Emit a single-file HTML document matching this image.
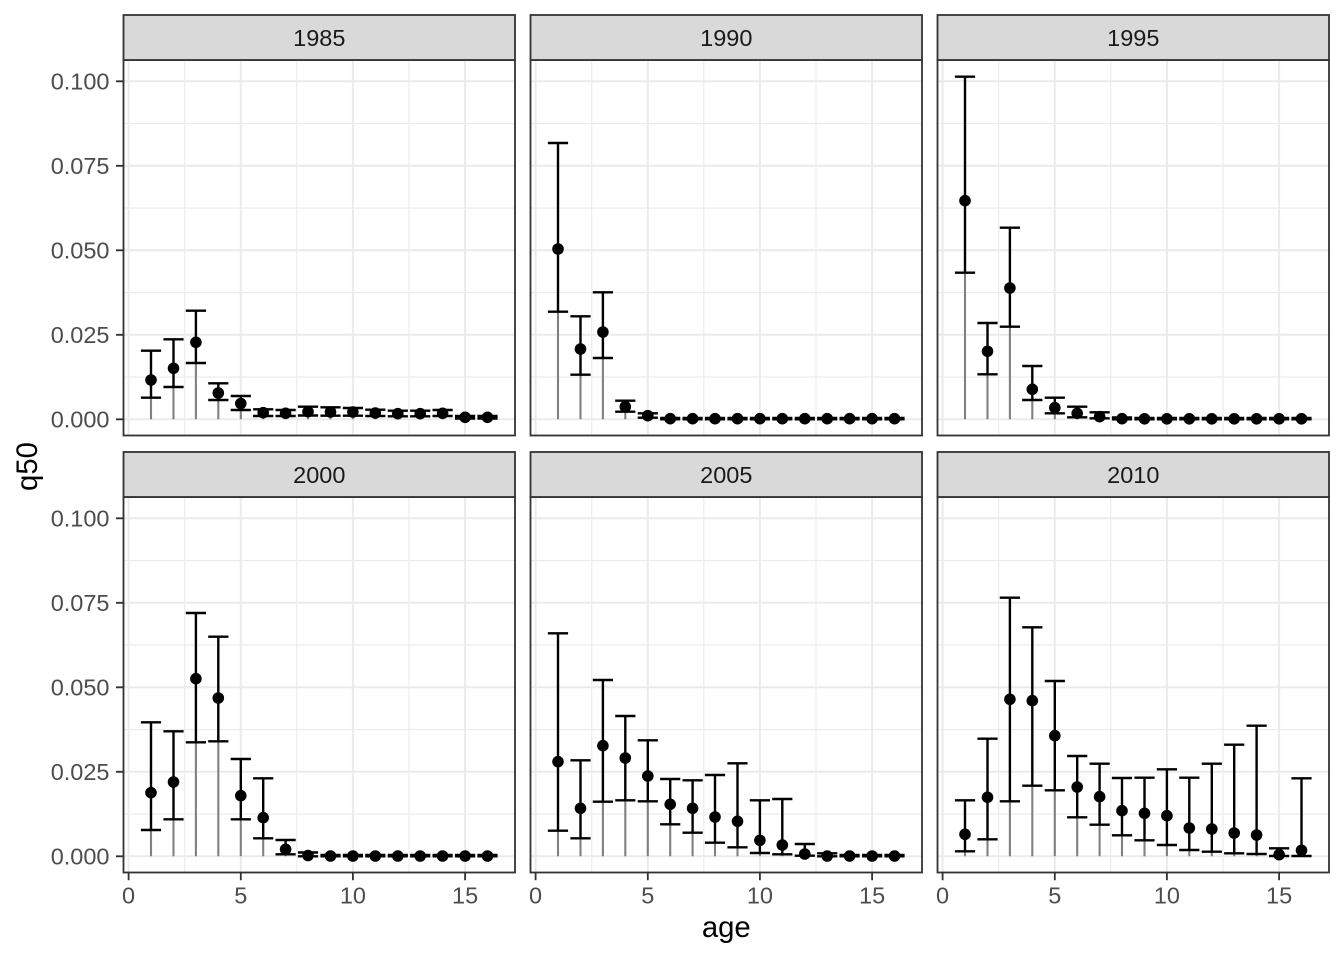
<!DOCTYPE html>
<html>
<head>
<meta charset="utf-8">
<style>
html,body{margin:0;padding:0;background:#fff;}
svg{display:block;}
text{font-family:"Liberation Sans",Arial,sans-serif;}
</style>
</head>
<body>
<svg width="1344" height="960" viewBox="0 0 1344 960" xmlns="http://www.w3.org/2000/svg">
<defs>
<g id="panel">
  <rect x="123.5" y="60" width="391.5" height="375.5" fill="#fff"/>
  <g stroke="#EBEBEB" stroke-width="1.1" fill="none">
    <path d="M123.5,377.05H515M123.5,292.55H515M123.5,208.05H515M123.5,123.55H515"/>
    <path d="M184.7,60V435.5M296.8,60V435.5M409,60V435.5"/>
  </g>
  <g stroke="#EBEBEB" stroke-width="2" fill="none">
    <path d="M123.5,419.3H515M123.5,334.8H515M123.5,250.3H515M123.5,165.8H515M123.5,81.3H515"/>
    <path d="M128.6,60V435.5M240.8,60V435.5M352.9,60V435.5M465.1,60V435.5"/>
  </g>
</g>
<g id="frame">
  <rect x="123.5" y="60" width="391.5" height="375.5" fill="none" stroke="#333333" stroke-width="1.8"/>
  <rect x="123.5" y="15" width="391.5" height="45" fill="#D9D9D9" stroke="#333333" stroke-width="1.8"/>
</g>
</defs>

<use href="#panel"/>
<use href="#panel" transform="translate(407,0)"/>
<use href="#panel" transform="translate(814,0)"/>
<use href="#panel" transform="translate(0,437)"/>
<use href="#panel" transform="translate(407,437)"/>
<use href="#panel" transform="translate(814,437)"/>

<!-- Panel 1: 1985 -->
<g>
<path fill="none" stroke="#808080" stroke-width="2.1" d="M151,419.3V397.7M173.5,419.3V387M195.9,419.3V363M218.3,419.3V400M240.8,419.3V410M263.2,419.3V416M285.6,419.3V416M308,419.3V415.5M330.5,419.3V415.7M352.9,419.3V415.7M375.3,419.3V416M397.8,419.3V416.3M420.2,419.3V416.3M442.6,419.3V416M465.1,419.3V418.5M487.5,419.3V418.5"/>
<path fill="none" stroke="#000" stroke-width="2.4" d="M140.9,350.7h20.2m-10.1,0V397.7m-10.1,0h20.2M163.4,339.3h20.2m-10.1,0V387m-10.1,0h20.2M185.8,310.7h20.2m-10.1,0V363m-10.1,0h20.2M208.2,383.3h20.2m-10.1,0V400m-10.1,0h20.2M230.7,396h20.2m-10.1,0V410m-10.1,0h20.2M253.1,409.3h20.2m-10.1,0V416m-10.1,0h20.2M275.5,410h20.2m-10.1,0V416m-10.1,0h20.2M297.9,406.7h20.2m-10.1,0V415.5m-10.1,0h20.2M320.4,407.3h20.2m-10.1,0V415.7m-10.1,0h20.2M342.8,408h20.2m-10.1,0V415.7m-10.1,0h20.2M365.2,409.7h20.2m-10.1,0V416m-10.1,0h20.2M387.7,410.7h20.2m-10.1,0V416.3m-10.1,0h20.2M410.1,410.7h20.2m-10.1,0V416.3m-10.1,0h20.2M432.5,410h20.2m-10.1,0V416m-10.1,0h20.2M455,416h20.2m-10.1,0V418.5m-10.1,0h20.2M477.4,416h20.2m-10.1,0V418.5m-10.1,0h20.2"/>
<g fill="#000">
<circle cx="151" cy="380" r="5.8"/><circle cx="173.5" cy="368.3" r="5.8"/><circle cx="195.9" cy="342.3" r="5.8"/><circle cx="218.3" cy="393" r="5.8"/><circle cx="240.8" cy="403.5" r="5.8"/><circle cx="263.2" cy="412.7" r="5.8"/><circle cx="285.6" cy="413.3" r="5.8"/><circle cx="308" cy="411.7" r="5.8"/><circle cx="330.5" cy="412" r="5.8"/><circle cx="352.9" cy="412" r="5.8"/><circle cx="375.3" cy="413" r="5.8"/><circle cx="397.8" cy="413.7" r="5.8"/><circle cx="420.2" cy="413.7" r="5.8"/><circle cx="442.6" cy="413.3" r="5.8"/><circle cx="465.1" cy="417.3" r="5.8"/><circle cx="487.5" cy="417.3" r="5.8"/>
</g>
</g>

<!-- Panel 2: 1990 -->
<g transform="translate(407,0)">
<path fill="none" stroke="#808080" stroke-width="2.1" d="M151,419.3V311.7M173.5,419.3V374.7M195.9,419.3V358M218.3,419.3V411.7M240.8,419.3V417.7"/>
<path fill="none" stroke="#000" stroke-width="2.4" d="M140.9,143h20.2m-10.1,0V311.7m-10.1,0h20.2M163.4,316.3h20.2m-10.1,0V374.7m-10.1,0h20.2M185.8,292.3h20.2m-10.1,0V358m-10.1,0h20.2M208.2,400.7h20.2m-10.1,0V411.7m-10.1,0h20.2M230.7,413.3h20.2m-10.1,0V417.7m-10.1,0h20.2M253.1,418h20.2m-10.1,0V419.3m-10.1,0h20.2M275.5,418h20.2m-10.1,0V419.3m-10.1,0h20.2M297.9,418h20.2m-10.1,0V419.3m-10.1,0h20.2M320.4,418h20.2m-10.1,0V419.3m-10.1,0h20.2M342.8,418h20.2m-10.1,0V419.3m-10.1,0h20.2M365.2,418h20.2m-10.1,0V419.3m-10.1,0h20.2M387.7,418h20.2m-10.1,0V419.3m-10.1,0h20.2M410.1,418h20.2m-10.1,0V419.3m-10.1,0h20.2M432.5,418h20.2m-10.1,0V419.3m-10.1,0h20.2M455,418h20.2m-10.1,0V419.3m-10.1,0h20.2M477.4,418h20.2m-10.1,0V419.3m-10.1,0h20.2"/>
<g fill="#000">
<circle cx="151" cy="249" r="5.8"/><circle cx="173.5" cy="349" r="5.8"/><circle cx="195.9" cy="332" r="5.8"/><circle cx="218.3" cy="406.7" r="5.8"/><circle cx="240.8" cy="415.7" r="5.8"/><circle cx="263.2" cy="418.7" r="5.8"/><circle cx="285.6" cy="418.7" r="5.8"/><circle cx="308" cy="418.7" r="5.8"/><circle cx="330.5" cy="418.7" r="5.8"/><circle cx="352.9" cy="418.7" r="5.8"/><circle cx="375.3" cy="418.7" r="5.8"/><circle cx="397.8" cy="418.7" r="5.8"/><circle cx="420.2" cy="418.7" r="5.8"/><circle cx="442.6" cy="418.7" r="5.8"/><circle cx="465.1" cy="418.7" r="5.8"/><circle cx="487.5" cy="418.7" r="5.8"/>
</g>
</g>

<!-- Panel 3: 1995 -->
<g transform="translate(814,0)">
<path fill="none" stroke="#808080" stroke-width="2.1" d="M151,419.3V272.7M173.5,419.3V374.3M195.9,419.3V326.7M218.3,419.3V400M240.8,419.3V413.3M263.2,419.3V417.3"/>
<path fill="none" stroke="#000" stroke-width="2.4" d="M140.9,76.7h20.2m-10.1,0V272.7m-10.1,0h20.2M163.4,323h20.2m-10.1,0V374.3m-10.1,0h20.2M185.8,227.7h20.2m-10.1,0V326.7m-10.1,0h20.2M208.2,366h20.2m-10.1,0V400m-10.1,0h20.2M230.7,397.7h20.2m-10.1,0V413.3m-10.1,0h20.2M253.1,406.7h20.2m-10.1,0V417.3m-10.1,0h20.2M275.5,412.3h20.2m-10.1,0V418.3m-10.1,0h20.2M297.9,417.5h20.2m-10.1,0V419.3m-10.1,0h20.2M320.4,418h20.2m-10.1,0V419.3m-10.1,0h20.2M342.8,418h20.2m-10.1,0V419.3m-10.1,0h20.2M365.2,418h20.2m-10.1,0V419.3m-10.1,0h20.2M387.7,418h20.2m-10.1,0V419.3m-10.1,0h20.2M410.1,418h20.2m-10.1,0V419.3m-10.1,0h20.2M432.5,418h20.2m-10.1,0V419.3m-10.1,0h20.2M455,418h20.2m-10.1,0V419.3m-10.1,0h20.2M477.4,418h20.2m-10.1,0V419.3m-10.1,0h20.2"/>
<g fill="#000">
<circle cx="151" cy="200.7" r="5.8"/><circle cx="173.5" cy="351.3" r="5.8"/><circle cx="195.9" cy="288" r="5.8"/><circle cx="218.3" cy="389.3" r="5.8"/><circle cx="240.8" cy="407.7" r="5.8"/><circle cx="263.2" cy="413.3" r="5.8"/><circle cx="285.6" cy="416.7" r="5.8"/><circle cx="308" cy="418.7" r="5.8"/><circle cx="330.5" cy="418.8" r="5.8"/><circle cx="352.9" cy="418.8" r="5.8"/><circle cx="375.3" cy="418.8" r="5.8"/><circle cx="397.8" cy="418.8" r="5.8"/><circle cx="420.2" cy="418.8" r="5.8"/><circle cx="442.6" cy="418.8" r="5.8"/><circle cx="465.1" cy="418.8" r="5.8"/><circle cx="487.5" cy="418.8" r="5.8"/>
</g>
</g>

<!-- Panel 4: 2000 -->
<g>
<path fill="none" stroke="#808080" stroke-width="2.1" d="M151,856.3V830M173.5,856.3V819.3M195.9,856.3V742.3M218.3,856.3V741.3M240.8,856.3V819.3M263.2,856.3V838.3M285.6,856.3V854.3"/>
<path fill="none" stroke="#000" stroke-width="2.4" d="M140.9,722.3h20.2m-10.1,0V830m-10.1,0h20.2M163.4,731.3h20.2m-10.1,0V819.3m-10.1,0h20.2M185.8,613h20.2m-10.1,0V742.3m-10.1,0h20.2M208.2,636.7h20.2m-10.1,0V741.3m-10.1,0h20.2M230.7,759h20.2m-10.1,0V819.3m-10.1,0h20.2M253.1,778.3h20.2m-10.1,0V838.3m-10.1,0h20.2M275.5,840h20.2m-10.1,0V854.3m-10.1,0h20.2M297.9,852.5h20.2m-10.1,0V856.3m-10.1,0h20.2M320.4,855h20.2m-10.1,0V856.3m-10.1,0h20.2M342.8,855h20.2m-10.1,0V856.3m-10.1,0h20.2M365.2,855h20.2m-10.1,0V856.3m-10.1,0h20.2M387.7,855h20.2m-10.1,0V856.3m-10.1,0h20.2M410.1,855h20.2m-10.1,0V856.3m-10.1,0h20.2M432.5,855h20.2m-10.1,0V856.3m-10.1,0h20.2M455,855h20.2m-10.1,0V856.3m-10.1,0h20.2M477.4,855h20.2m-10.1,0V856.3m-10.1,0h20.2"/>
<g fill="#000">
<circle cx="151" cy="792.7" r="5.8"/><circle cx="173.5" cy="782" r="5.8"/><circle cx="195.9" cy="678.7" r="5.8"/><circle cx="218.3" cy="698" r="5.8"/><circle cx="240.8" cy="795.7" r="5.8"/><circle cx="263.2" cy="817.7" r="5.8"/><circle cx="285.6" cy="849.3" r="5.8"/><circle cx="308" cy="855.5" r="5.8"/><circle cx="330.5" cy="856" r="5.8"/><circle cx="352.9" cy="856" r="5.8"/><circle cx="375.3" cy="856" r="5.8"/><circle cx="397.8" cy="856" r="5.8"/><circle cx="420.2" cy="856" r="5.8"/><circle cx="442.6" cy="856" r="5.8"/><circle cx="465.1" cy="856" r="5.8"/><circle cx="487.5" cy="856" r="5.8"/>
</g>
</g>

<!-- Panel 5: 2005 -->
<g transform="translate(407,0)">
<path fill="none" stroke="#808080" stroke-width="2.1" d="M151,856.3V830.7M173.5,856.3V838.3M195.9,856.3V801.7M218.3,856.3V800.3M240.8,856.3V801.3M263.2,856.3V824.3M285.6,856.3V832.7M308,856.3V842.7M330.5,856.3V847.3M352.9,856.3V853M375.3,856.3V854.3"/>
<path fill="none" stroke="#000" stroke-width="2.4" d="M140.9,633.3h20.2m-10.1,0V830.7m-10.1,0h20.2M163.4,760.3h20.2m-10.1,0V838.3m-10.1,0h20.2M185.8,680h20.2m-10.1,0V801.7m-10.1,0h20.2M208.2,716h20.2m-10.1,0V800.3m-10.1,0h20.2M230.7,740.3h20.2m-10.1,0V801.3m-10.1,0h20.2M253.1,779h20.2m-10.1,0V824.3m-10.1,0h20.2M275.5,780.3h20.2m-10.1,0V832.7m-10.1,0h20.2M297.9,775h20.2m-10.1,0V842.7m-10.1,0h20.2M320.4,763.3h20.2m-10.1,0V847.3m-10.1,0h20.2M342.8,800.3h20.2m-10.1,0V853m-10.1,0h20.2M365.2,799h20.2m-10.1,0V854.3m-10.1,0h20.2M387.7,844h20.2m-10.1,0V855.7m-10.1,0h20.2M410.1,853.3h20.2m-10.1,0V856.3m-10.1,0h20.2M432.5,855h20.2m-10.1,0V856.3m-10.1,0h20.2M455,855h20.2m-10.1,0V856.3m-10.1,0h20.2M477.4,855h20.2m-10.1,0V856.3m-10.1,0h20.2"/>
<g fill="#000">
<circle cx="151" cy="761.7" r="5.8"/><circle cx="173.5" cy="808.3" r="5.8"/><circle cx="195.9" cy="745.7" r="5.8"/><circle cx="218.3" cy="758" r="5.8"/><circle cx="240.8" cy="776" r="5.8"/><circle cx="263.2" cy="804.3" r="5.8"/><circle cx="285.6" cy="808.3" r="5.8"/><circle cx="308" cy="817" r="5.8"/><circle cx="330.5" cy="821.3" r="5.8"/><circle cx="352.9" cy="840.3" r="5.8"/><circle cx="375.3" cy="845" r="5.8"/><circle cx="397.8" cy="854" r="5.8"/><circle cx="420.2" cy="856" r="5.8"/><circle cx="442.6" cy="856" r="5.8"/><circle cx="465.1" cy="856" r="5.8"/><circle cx="487.5" cy="856" r="5.8"/>
</g>
</g>

<!-- Panel 6: 2010 -->
<g transform="translate(814,0)">
<path fill="none" stroke="#808080" stroke-width="2.1" d="M151,856.3V851.3M173.5,856.3V839.3M195.9,856.3V801.3M218.3,856.3V785.7M240.8,856.3V790.3M263.2,856.3V817.3M285.6,856.3V824.7M308,856.3V835.3M330.5,856.3V840.3M352.9,856.3V845M375.3,856.3V850M397.8,856.3V851.7M420.2,856.3V853.3M442.6,856.3V854"/>
<path fill="none" stroke="#000" stroke-width="2.4" d="M140.9,800.3h20.2m-10.1,0V851.3m-10.1,0h20.2M163.4,738.7h20.2m-10.1,0V839.3m-10.1,0h20.2M185.8,597.7h20.2m-10.1,0V801.3m-10.1,0h20.2M208.2,627.3h20.2m-10.1,0V785.7m-10.1,0h20.2M230.7,681h20.2m-10.1,0V790.3m-10.1,0h20.2M253.1,756h20.2m-10.1,0V817.3m-10.1,0h20.2M275.5,763.7h20.2m-10.1,0V824.7m-10.1,0h20.2M297.9,778h20.2m-10.1,0V835.3m-10.1,0h20.2M320.4,777.7h20.2m-10.1,0V840.3m-10.1,0h20.2M342.8,769.3h20.2m-10.1,0V845m-10.1,0h20.2M365.2,777.7h20.2m-10.1,0V850m-10.1,0h20.2M387.7,763.7h20.2m-10.1,0V851.7m-10.1,0h20.2M410.1,744.7h20.2m-10.1,0V853.3m-10.1,0h20.2M432.5,725.7h20.2m-10.1,0V854m-10.1,0h20.2M455,848.3h20.2m-10.1,0V856m-10.1,0h20.2M477.4,778.3h20.2m-10.1,0V856m-10.1,0h20.2"/>
<g fill="#000">
<circle cx="151" cy="834.3" r="5.8"/><circle cx="173.5" cy="797.3" r="5.8"/><circle cx="195.9" cy="699.3" r="5.8"/><circle cx="218.3" cy="700.7" r="5.8"/><circle cx="240.8" cy="735.7" r="5.8"/><circle cx="263.2" cy="787" r="5.8"/><circle cx="285.6" cy="796.7" r="5.8"/><circle cx="308" cy="810.7" r="5.8"/><circle cx="330.5" cy="813.3" r="5.8"/><circle cx="352.9" cy="815.7" r="5.8"/><circle cx="375.3" cy="828" r="5.8"/><circle cx="397.8" cy="829" r="5.8"/><circle cx="420.2" cy="833" r="5.8"/><circle cx="442.6" cy="835" r="5.8"/><circle cx="465.1" cy="854.7" r="5.8"/><circle cx="487.5" cy="850.3" r="5.8"/>
</g>
</g>

<use href="#frame"/>
<use href="#frame" transform="translate(407,0)"/>
<use href="#frame" transform="translate(814,0)"/>
<use href="#frame" transform="translate(0,437)"/>
<use href="#frame" transform="translate(407,437)"/>
<use href="#frame" transform="translate(814,437)"/>

<g font-size="23.5" fill="#1A1A1A" text-anchor="middle">
<text x="319.3" y="46">1985</text>
<text x="726.3" y="46">1990</text>
<text x="1133.3" y="46">1995</text>
<text x="319.3" y="483">2000</text>
<text x="726.3" y="483">2005</text>
<text x="1133.3" y="483">2010</text>
</g>

<path fill="none" stroke="#333333" stroke-width="1.8" d="M116,419.3H123.5M116,334.8H123.5M116,250.3H123.5M116,165.8H123.5M116,81.3H123.5M116,856.3H123.5M116,771.8H123.5M116,687.3H123.5M116,602.8H123.5M116,518.3H123.5"/>
<path fill="none" stroke="#333333" stroke-width="1.8" d="M128.6,873V880.3M240.8,873V880.3M352.9,873V880.3M465.1,873V880.3M535.6,873V880.3M647.8,873V880.3M759.9,873V880.3M872.1,873V880.3M942.6,873V880.3M1054.8,873V880.3M1166.9,873V880.3M1279.1,873V880.3"/>

<g font-size="23.5" fill="#4D4D4D" text-anchor="end">
<text x="109.5" y="427.5">0.000</text>
<text x="109.5" y="343">0.025</text>
<text x="109.5" y="258.5">0.050</text>
<text x="109.5" y="174">0.075</text>
<text x="109.5" y="89.5">0.100</text>
<text x="109.5" y="864.5">0.000</text>
<text x="109.5" y="780">0.025</text>
<text x="109.5" y="695.5">0.050</text>
<text x="109.5" y="611">0.075</text>
<text x="109.5" y="526.5">0.100</text>
</g>

<g font-size="23.5" fill="#4D4D4D" text-anchor="middle">
<text x="128.6" y="903.5">0</text>
<text x="240.8" y="903.5">5</text>
<text x="352.9" y="903.5">10</text>
<text x="465.1" y="903.5">15</text>
<text x="535.6" y="903.5">0</text>
<text x="647.8" y="903.5">5</text>
<text x="759.9" y="903.5">10</text>
<text x="872.1" y="903.5">15</text>
<text x="942.6" y="903.5">0</text>
<text x="1054.8" y="903.5">5</text>
<text x="1166.9" y="903.5">10</text>
<text x="1279.1" y="903.5">15</text>
</g>

<text x="726.3" y="937" font-size="29.3" fill="#000" text-anchor="middle">age</text>
<text transform="translate(37,466.5) rotate(-90)" font-size="29.3" fill="#000" text-anchor="middle">q50</text>
</svg>
</body>
</html>
